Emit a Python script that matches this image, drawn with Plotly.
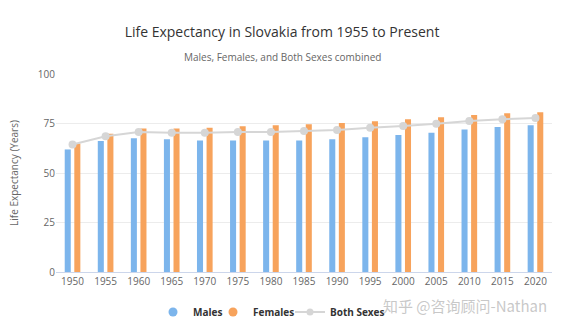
import plotly.graph_objects as go

years = ["1950", "1955", "1960", "1965", "1970", "1975", "1980", "1985",
         "1990", "1995", "2000", "2005", "2010", "2015", "2020"]
males = [61.9, 66.1, 67.6, 67.0, 66.4, 66.4, 66.4, 66.4, 67.0, 68.0, 69.2, 70.3, 72.0, 73.2, 74.1]
females = [64.9, 69.8, 72.5, 72.5, 72.9, 73.6, 74.1, 74.6, 75.2, 76.1, 77.1, 78.1, 79.3, 80.2, 80.7]
both = [64.4, 68.6, 70.7, 70.3, 70.3, 70.7, 70.7, 71.2, 71.7, 72.9, 73.7, 74.9, 76.3, 77.1, 77.8]
y_ticks = [0, 25, 50, 75, 100]

FONT = "Open Sans"
C_M = "#7cb5ec"
C_F = "#f7a35c"
C_B = "#d6d6d6"

W, H = 564, 331
L, R, T, B = 56, 12, 74, 59
PW, PH = W - L - R, H - T - B


def px_x(px):
    return (px - L) / PW


def px_y(py):
    return (H - B - py) / PH


fig = go.Figure()
fig.add_trace(go.Bar(x=years, y=males, name="Males", marker=dict(color=C_M, line=dict(width=0)),
                     showlegend=False))
fig.add_trace(go.Bar(x=years, y=females, name="Females", marker=dict(color=C_F, line=dict(width=0)),
                     showlegend=False))
fig.add_trace(go.Scatter(x=years, y=both, name="Both Sexes", mode="lines+markers",
                         line=dict(color=C_B, width=2),
                         marker=dict(color=C_B, size=8, symbol="circle"),
                         showlegend=False))
# legend proxies (one legend each so they can be spaced like the reference)
fig.add_trace(go.Scatter(x=[years[0]], y=[None], mode="markers", name="<b>Males</b>",
                         marker=dict(color=C_M, size=9, symbol="circle"), legend="legend"))
fig.add_trace(go.Scatter(x=[years[0]], y=[None], mode="markers", name="<b>Females</b>",
                         marker=dict(color=C_F, size=9, symbol="circle"), legend="legend2"))
fig.add_trace(go.Scatter(x=[years[0]], y=[None], mode="lines+markers", name="<b>Both Sexes</b>",
                         line=dict(color=C_B, width=2),
                         marker=dict(color=C_B, size=7, symbol="circle"), legend="legend3"))


def leg(text_px):
    return dict(orientation="h", x=px_x(text_px - 40), xanchor="left",
                y=px_y(312), yanchor="middle", bgcolor="rgba(0,0,0,0)",
                font=dict(family=FONT, size=10, color="#333333"), itemwidth=30)


fig.update_layout(
    width=W, height=H,
    margin=dict(l=L, r=R, t=T, b=B, autoexpand=False),
    paper_bgcolor="white", plot_bgcolor="white",
    barmode="group", bargap=0.42, bargroupgap=0.37,
    font=dict(family=FONT, color="#666666", size=10),
    title=dict(text="Life Expectancy in Slovakia from 1955 to Present",
               x=0.5, xanchor="center", y=1 - 32 / H, yanchor="middle",
               font=dict(family=FONT, size=14, color="#333333")),
    xaxis=dict(type="category", categoryorder="array", categoryarray=years,
               range=[-0.5, len(years) - 0.5],
               showgrid=False, showline=True, linecolor="#ccd6eb",
               linewidth=1, ticks="", automargin=False,
               tickfont=dict(size=10, color="#666666")),
    yaxis=dict(range=[0, 100], tickvals=y_ticks, showgrid=True, gridcolor="#ececec",
               zeroline=False, showline=False, ticks="", automargin=False,
               tickfont=dict(size=10, color="#666666"),
               title=dict(text="Life Expectancy (Years)", font=dict(size=10, color="#666666"),
                          standoff=17)),
    showlegend=True,
    legend=leg(193),
    legend2=leg(253),
    legend3=leg(330),
    annotations=[
        dict(text="Males, Females, and Both Sexes combined", xref="paper", yref="paper",
             x=px_x(W / 2), xanchor="center", y=px_y(57), yanchor="middle",
             showarrow=False, font=dict(family=FONT, size=10, color="#666666")),
        dict(text="知乎 @咨询顾问-Nathan", xref="paper", yref="paper",
             x=px_x(549), xanchor="right", y=px_y(305), yanchor="middle",
             showarrow=False, font=dict(family="Noto Sans CJK SC", size=15,
                                        color="rgba(190,190,190,0.85)")),
    ],
)

fig.write_html("out.html")
